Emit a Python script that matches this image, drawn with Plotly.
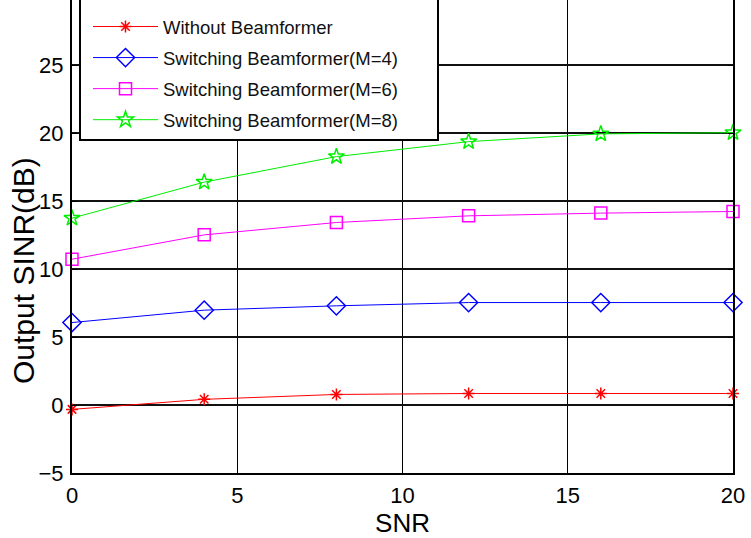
import plotly.graph_objects as go

# SNR sweep (dB) and output SINR (dB) for each receiver configuration
snr = [0, 4, 8, 12, 16, 20]
sinr_without = [-0.32, 0.42, 0.78, 0.85, 0.85, 0.85]
sinr_m4 = [6.07, 6.98, 7.30, 7.54, 7.54, 7.54]
sinr_m6 = [10.73, 12.52, 13.43, 13.92, 14.12, 14.24]
sinr_m8 = [13.75, 16.40, 18.28, 19.38, 19.95, 20.04]

series_names = [
    "Without Beamformer",
    "Switching Beamformer(M=4)",
    "Switching Beamformer(M=6)",
    "Switching Beamformer(M=8)",
]
x_ticks = [0, 5, 10, 15, 20]
y_ticks = [-5, 0, 5, 10, 15, 20, 25]

FONT = "Liberation Sans, Arial, sans-serif"

styles = [
    dict(color="#FF0000", symbol="asterisk-open", size=10),
    dict(color="#0000FF", symbol="diamond-open", size=14),
    dict(color="#FF00FF", symbol="square-open", size=12),
    dict(color="#00EE00", symbol="star-open", size=12),
]

fig = go.Figure()
for i, (name, ys, st) in enumerate(zip(series_names,
                                       [sinr_without, sinr_m4, sinr_m6, sinr_m8],
                                       styles)):
    fig.add_trace(go.Scatter(
        x=snr, y=ys, name=name, mode="lines+markers",
        legendgroup=f"g{i}",
        line=dict(color=st["color"], width=1),
        marker=dict(symbol=st["symbol"], size=st["size"], color=st["color"],
                    line=dict(color=st["color"], width=1.5)),
        cliponaxis=False,
    ))

# plot-area geometry in pixels (used to place the legend frame)
W, H = 751, 538
L, R, T, B = 72, 18, 0, 65
pw, ph = W - L - R, H - T - B

def px_x(p):
    return (p - L) / pw

def px_y(p):
    return (H - B - p) / ph

# opaque legend frame
fig.add_shape(type="rect", xref="paper", yref="paper",
              x0=px_x(80), x1=px_x(438), y0=px_y(140), y1=px_y(-5),
              fillcolor="white", line=dict(color="black", width=2), layer="above")

fig.update_layout(
    width=W, height=H,
    margin=dict(l=L, r=R, t=T, b=B),
    paper_bgcolor="white", plot_bgcolor="white",
    font=dict(family=FONT, color="black"),
    showlegend=True,
    legend=dict(
        x=px_x(88), y=px_y(8), xanchor="left", yanchor="top",
        bgcolor="rgba(0,0,0,0)", borderwidth=0,
        font=dict(size=18.5, family=FONT, color="#111"),
        itemwidth=65, traceorder="grouped", tracegroupgap=4,
    ),
    xaxis=dict(
        range=[0, 20], tickvals=x_ticks, ticks="inside", ticklen=5,
        tickcolor="black", tickwidth=1,
        showline=True, linecolor="black", linewidth=2, mirror=False,
        showgrid=True, gridcolor="black", gridwidth=1, zeroline=False,
        tickfont=dict(size=22, family=FONT), ticklabelstandoff=2,
        title=dict(text="SNR", font=dict(size=26, family=FONT), standoff=4),
    ),
    yaxis=dict(
        range=[-5, 29.8], tickvals=y_ticks, ticks="inside", ticklen=5,
        tickcolor="black", tickwidth=1,
        showline=True, linecolor="black", linewidth=2, mirror="ticks",
        showgrid=True, gridcolor="#111", gridwidth=2, zeroline=False,
        tickfont=dict(size=22, family=FONT), ticklabelstandoff=2,
    ),
    annotations=[dict(
        text="Output SINR(dB)", xref="paper", yref="paper",
        x=-(L - 23) / pw, y=px_y(271), xanchor="center", yanchor="middle",
        textangle=-90, showarrow=False, font=dict(size=30, family=FONT),
    )],
)

fig.write_html("out.html")
